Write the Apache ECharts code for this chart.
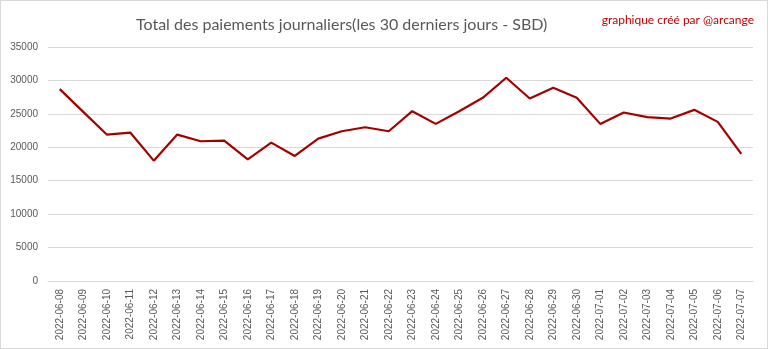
<!DOCTYPE html>
<html><head><meta charset="utf-8">
<script src="https://cdn.jsdelivr.net/npm/echarts@6/dist/echarts.min.js"></script>
<style>html,body{margin:0;padding:0;background:#fff}#c{width:768px;height:349px;box-sizing:border-box;border:1px solid #d9d9d9}</style>
</head><body><div id="c"></div>
<script>
const categories = ["2022-06-08","2022-06-09","2022-06-10","2022-06-11","2022-06-12","2022-06-13","2022-06-14","2022-06-15","2022-06-16","2022-06-17","2022-06-18","2022-06-19","2022-06-20","2022-06-21","2022-06-22","2022-06-23","2022-06-24","2022-06-25","2022-06-26","2022-06-27","2022-06-28","2022-06-29","2022-06-30","2022-07-01","2022-07-02","2022-07-03","2022-07-04","2022-07-05","2022-07-06","2022-07-07"];
const payments = [28700,25300,21900,22200,18000,21900,20900,21000,18200,20700,18700,21300,22400,23000,22400,25400,23500,25400,27400,30400,27300,28900,27400,23500,25200,24500,24300,25600,23800,19000];
const titleText = "Total des paiements journaliers(les 30 derniers jours - SBD)";
const creditText = "graphique créé par @arcange";
const chart = echarts.init(document.getElementById('c'));
chart.setOption({
  animation:false,
  title:[
    {text:titleText,left:130,top:11,textStyle:{fontFamily:'Lato, "Open Sans", sans-serif',fontSize:16,fontWeight:'normal',color:'#595959'}},
    {text:creditText,right:8,top:8,textStyle:{fontFamily:'Lato, "Open Sans", sans-serif',fontSize:12,fontWeight:'normal',color:'#C00000'}}
  ],
  grid:{left:47,right:14,top:46,bottom:67},
  xAxis:{type:'category',data:categories,boundaryGap:true,
    axisLine:{lineStyle:{color:'#d9d9d9'}},axisTick:{show:false},
    axisLabel:{rotate:90,color:'#595959',fontSize:10,fontFamily:'"Liberation Sans", Arial, sans-serif',interval:0,margin:8}},
  yAxis:{type:'value',min:0,max:35000,interval:5000,
    axisLine:{show:false},axisTick:{show:false},
    splitLine:{lineStyle:{color:'#d9d9d9'}},
    axisLabel:{color:'#595959',fontSize:10,fontFamily:'"Liberation Sans", Arial, sans-serif',margin:10,formatter:v=>String(v)}},
  series:[{type:'line',data:payments,symbol:'none',lineStyle:{color:'#A50000',width:2.2},itemStyle:{color:'#A50000'}}]
});
</script></body></html>
